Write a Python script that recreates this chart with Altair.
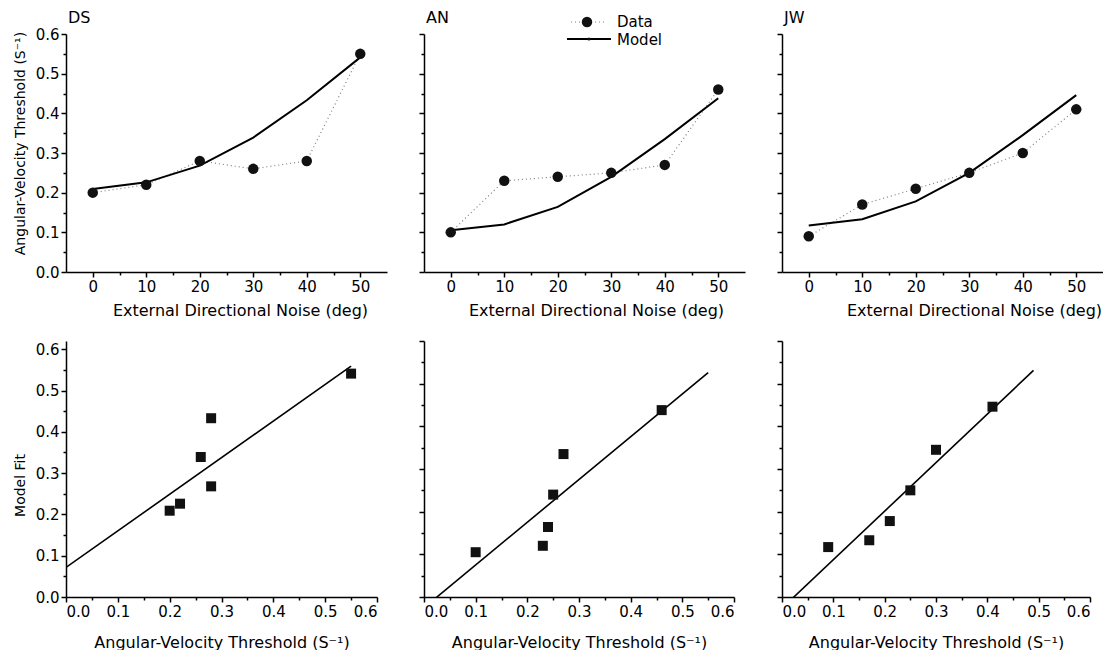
import altair as alt
import pandas as pd

# ---- data ----
noise = [0, 10, 20, 30, 40, 50]
subjects = ["DS", "AN", "JW"]
ds_data = [0.20, 0.22, 0.28, 0.26, 0.28, 0.55]
ds_model = [0.209, 0.226, 0.268, 0.339, 0.433, 0.541]
an_data = [0.10, 0.23, 0.24, 0.25, 0.27, 0.46]
an_model = [0.105, 0.120, 0.164, 0.240, 0.335, 0.438]
jw_data = [0.09, 0.17, 0.21, 0.25, 0.30, 0.41]
jw_model = [0.117, 0.133, 0.178, 0.250, 0.345, 0.446]
fit_extent = {"DS": [0, 0.55], "AN": [0, 0.55], "JW": [0, 0.49]}
legend_labels = ["Data", "Model"]

series = {"DS": (ds_data, ds_model), "AN": (an_data, an_model), "JW": (jw_data, jw_model)}

FONT = "DejaVu Sans"
noise_ticks = list(range(0, 51, 5))
thr_ticks = [round(i * 0.05, 2) for i in range(13)]
is_major_y = "abs(datum.value*10 - round(datum.value*10)) < 0.001"
is_major_n = "datum.value % 10 == 0"

top_w = 321
top_h = 238
bot_w = {"DS": 311, "AN": 310, "JW": 308}
bot_h = 256
top_title_x = {"DS": 174, "AN": 172, "JW": 192}


def y_axis(show, title, title_y):
    kw = dict(
        values=thr_ticks,
        format=".1f",
        tickSize={"condition": {"test": is_major_y, "value": 5}, "value": 3},
        grid=False,
        labelOverlap=False,
    )
    if show:
        kw.update(labelExpr=f"{is_major_y} ? datum.label : ''", title=title,
                  titleFontSize=14, titlePadding=8, titleY=title_y, titleAlign="center")
    else:
        kw.update(labels=False, title=None)
    return alt.Axis(**kw)


def top_panel(name):
    data, model = series[name]
    df = pd.DataFrame({"noise": noise, "data": data, "model": model})
    first = name == "DS"
    xaxis = alt.Axis(values=noise_ticks,
                     labelExpr=f"{is_major_n} ? datum.label : ''",
                     tickSize={"condition": {"test": is_major_n, "value": 5}, "value": 3},
                     title="External Directional Noise (deg)",
                     titleX=top_title_x[name], titleAlign="center",
                     titlePadding=8, labelPadding=2, grid=False, labelOverlap=False)
    xscale = alt.Scale(domain=[-5, 55], nice=False, zero=False)
    yscale = alt.Scale(domain=[0, 0.6], nice=False, zero=False)
    yaxis = y_axis(first, "Angular-Velocity Threshold (S\u207b\u00b9)", 109)

    def X():
        return alt.X("noise:Q", scale=xscale, axis=xaxis)

    def Y(field):
        return alt.Y(f"{field}:Q", scale=yscale, axis=yaxis)

    base = alt.Chart(df)
    dline = base.mark_line(color="#808080", strokeDash=[1, 3], strokeWidth=1.2).encode(
        x=X(), y=Y("data"))
    mline = base.mark_line(color="black", strokeWidth=2).encode(x=X(), y=Y("model"))
    pts = base.mark_point(shape="circle", filled=True, size=110, color="#111111", opacity=1).encode(
        x=X(), y=Y("data"))
    one = pd.DataFrame({"k": [0]})
    lg = alt.Chart(one)
    label = lg.mark_text(text=name, align="left", baseline="alphabetic", font=FONT,
                         fontSize=16, color="black").encode(x=alt.value(2), y=alt.value(-11))
    layers = [dline, mline, pts, label]
    if name == "AN":
        layers += [
            lg.mark_rule(color="#808080", strokeDash=[1, 3], strokeWidth=1.2).encode(
                x=alt.value(147), x2=alt.value(180), y=alt.value(-12)),
            lg.mark_point(shape="circle", filled=True, size=110, color="#111111", opacity=1).encode(
                x=alt.value(163), y=alt.value(-12)),
            lg.mark_text(text=legend_labels[0], align="left", baseline="middle", font=FONT,
                         fontSize=15, color="black").encode(x=alt.value(193), y=alt.value(-12)),
            lg.mark_rule(color="black", strokeWidth=2).encode(
                x=alt.value(143), x2=alt.value(187), y=alt.value(5)),
            lg.mark_point(shape="circle", filled=True, size=10, color="#111111", opacity=1).encode(
                x=alt.value(165), y=alt.value(5)),
            lg.mark_text(text=legend_labels[1], align="left", baseline="middle", font=FONT,
                         fontSize=15, color="black").encode(x=alt.value(193), y=alt.value(5.5)),
        ]
    return alt.layer(*layers).properties(width=top_w, height=top_h)


def bottom_panel(name):
    data, model = series[name]
    df = pd.DataFrame({"threshold": data, "fit": model})
    first = name == "DS"
    ydom = [0, 0.62] if first else [0, 0.6]
    xaxis = alt.Axis(values=thr_ticks, format=".1f",
                     labelExpr=f"{is_major_y} ? datum.label : ''",
                     tickSize={"condition": {"test": is_major_y, "value": 5}, "value": 3},
                     title="Angular-Velocity Threshold (S\u207b\u00b9)",
                     titlePadding=15, labelPadding=2, grid=False, labelOverlap=False)
    xscale = alt.Scale(domain=[0, 0.6], nice=False, zero=False)
    yscale = alt.Scale(domain=ydom, nice=False, zero=False)
    yaxis = y_axis(first, "Model Fit", 144)
    x = alt.X("threshold:Q", scale=xscale, axis=xaxis)
    y = alt.Y("fit:Q", scale=yscale, axis=yaxis)
    base = alt.Chart(df)
    pts = base.mark_point(shape="square", filled=True, size=100, color="#111111", opacity=1).encode(
        x=x, y=y)
    fit = base.transform_regression("threshold", "fit", extent=fit_extent[name]).mark_line(
        color="black", strokeWidth=1.6, clip=True).encode(x=x, y=y)
    return alt.layer(fit, pts).properties(width=bot_w[name], height=bot_h)


panels = [top_panel(s) for s in subjects] + [bottom_panel(s) for s in subjects]

chart = alt.concat(*panels, columns=3, spacing={"row": 69, "column": 37},
                   bounds="flush").properties(
    padding={"left": 5, "top": 2, "right": 0, "bottom": 0},
    background="white",
).configure_view(stroke=None).configure_axis(
    domainColor="black", domainWidth=1.5, tickColor="black", tickWidth=1.5,
    labelColor="black", titleColor="black", labelFont=FONT, titleFont=FONT,
    labelFontSize=15, titleFontSize=16, titleFontWeight="normal",
)

chart.save("out.html", embed_options={"renderer": "svg", "actions": False})
